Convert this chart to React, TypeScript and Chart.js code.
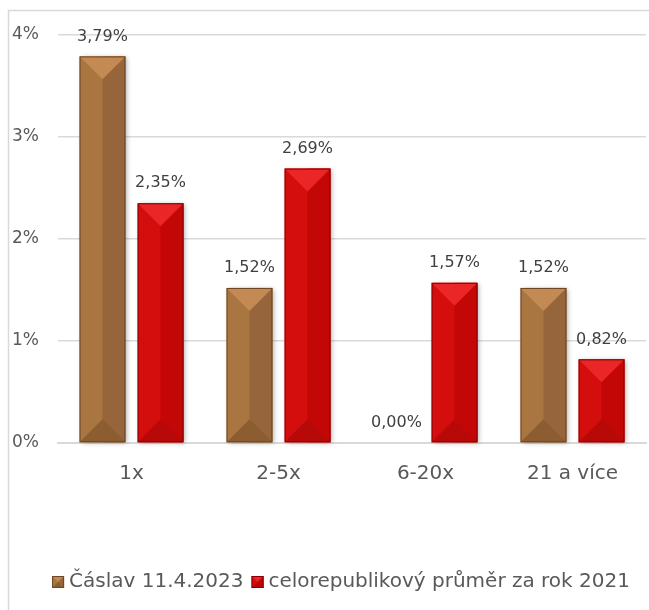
import React, { useEffect, useRef } from "react";
import { Chart, registerables } from "chart.js";

Chart.register(...registerables);

const categories = ["1x", "2-5x", "6-20x", "21 a více"];
const seriesNames = ["Čáslav 11.4.2023", "celorepublikový průměr za rok 2021"];
const caslav = [3.79, 1.52, 0.0, 1.52];
const national = [2.35, 2.69, 1.57, 0.82];
const yTicks = [0, 1, 2, 3, 4];

const FONT = "'DejaVu Sans', sans-serif";
const TEXT = "#595959";

type Pal = { left: string; right: string; top: string; bottom: string; edge: string };
const brown: Pal = { left: "#a97541", right: "#96653b", top: "#c48a53", bottom: "#8c5d31", edge: "#6e4623" };
const red: Pal = { left: "#d40d0d", right: "#c30606", top: "#ea2626", bottom: "#b80909", edge: "#8a0000" };
const palettes = [brown, red];

function drawBevel(ctx: CanvasRenderingContext2D, l: number, r: number, top: number, base: number, p: Pal, shadow: boolean) {
  const w = r - l;
  const h = base - top;
  if (h <= 0.5) return;
  const cx = (l + r) / 2;
  const d = Math.min(w / 2, h / 2);
  ctx.save();
  if (shadow) {
    ctx.shadowColor = "rgba(0,0,0,0.35)";
    ctx.shadowBlur = 5;
    ctx.shadowOffsetX = 2;
    ctx.shadowOffsetY = 1;
  }
  ctx.fillStyle = p.left;
  ctx.fillRect(l, top, w, h);
  ctx.restore();
  ctx.save();
  ctx.fillStyle = p.right;
  ctx.fillRect(cx, top, r - cx, h);
  ctx.fillStyle = p.top;
  ctx.beginPath();
  ctx.moveTo(l, top);
  ctx.lineTo(r, top);
  ctx.lineTo(cx, top + d);
  ctx.closePath();
  ctx.fill();
  ctx.fillStyle = p.bottom;
  ctx.beginPath();
  ctx.moveTo(l, base);
  ctx.lineTo(r, base);
  ctx.lineTo(cx, base - d);
  ctx.closePath();
  ctx.fill();
  ctx.strokeStyle = p.edge;
  ctx.lineWidth = 1;
  ctx.strokeRect(l + 0.5, top + 0.5, w - 1, h - 1);
  ctx.restore();
}

const fmt = (v: number) => v.toFixed(2).replace(".", ",") + "%";

const customPlugin = {
  id: "custom",
  beforeDraw(chart: any) {
    const ctx = chart.ctx as CanvasRenderingContext2D;
    ctx.save();
    ctx.fillStyle = "#ffffff";
    ctx.fillRect(0, 0, chart.width, chart.height);
    ctx.strokeStyle = "#d9d9d9";
    ctx.lineWidth = 1.5;
    ctx.beginPath();
    ctx.moveTo(8.5, chart.height);
    ctx.lineTo(8.5, 10.5);
    ctx.lineTo(chart.width, 10.5);
    ctx.stroke();
    ctx.restore();
  },
  afterDatasetsDraw(chart: any) {
    const ctx = chart.ctx as CanvasRenderingContext2D;
    chart.data.datasets.forEach((ds: any, di: number) => {
      const meta = chart.getDatasetMeta(di);
      meta.data.forEach((bar: any, i: number) => {
        const props = bar.getProps(["x", "y", "base", "width"], true);
        const l = props.x - props.width / 2;
        const r = props.x + props.width / 2;
        drawBevel(ctx, l, r, props.y, props.base, palettes[di], true);
        ctx.save();
        ctx.fillStyle = "#404040";
        ctx.font = `16px ${FONT}`;
        ctx.textAlign = "center";
        ctx.textBaseline = "middle";
        ctx.fillText(fmt(ds.data[i]), props.x, props.y - 20);
        ctx.restore();
      });
    });
  },
  afterDraw(chart: any) {
    const ctx = chart.ctx as CanvasRenderingContext2D;
    ctx.save();
    ctx.font = `20px ${FONT}`;
    ctx.textBaseline = "middle";
    ctx.fillStyle = TEXT;
    const box = 12;
    const gap = 5;
    const itemGap = 8;
    const w0 = ctx.measureText(seriesNames[0]).width;
    const w1 = ctx.measureText(seriesNames[1]).width;
    const total = box + gap + w0 + itemGap + box + gap + w1;
    let x = 341 - total / 2;
    const y = 582;
    seriesNames.forEach((name, i) => {
      drawBevel(ctx, x, x + box, y - box / 2, y + box / 2, palettes[i], false);
      x += box + gap;
      ctx.fillStyle = TEXT;
      ctx.fillText(name, x, y);
      x += (i === 0 ? w0 : w1) + itemGap;
    });
    ctx.restore();
  },
};

export default function App() {
  const ref = useRef<HTMLCanvasElement | null>(null);
  useEffect(() => {
    if (!ref.current) return;
    const chart = new Chart(ref.current, {
      type: "bar",
      data: {
        labels: categories,
        datasets: [
          { label: seriesNames[0], data: caslav, backgroundColor: "rgba(0,0,0,0)", categoryPercentage: 0.79, barPercentage: 0.79 },
          { label: seriesNames[1], data: national, backgroundColor: "rgba(0,0,0,0)", categoryPercentage: 0.79, barPercentage: 0.79 },
        ],
      },
      options: {
        responsive: false,
        animation: false,
        devicePixelRatio: 1,
        layout: { padding: { left: 12, top: 35, right: 3, bottom: 107 } },
        plugins: { legend: { display: false }, tooltip: { enabled: false }, title: { display: false } },
        scales: {
          x: {
            grid: { display: false, drawTicks: false },
            border: { display: true, color: "#d9d9d9", width: 2 },
            ticks: { color: TEXT, font: { family: FONT, size: 20 }, padding: 19 },
            afterFit: (s: any) => { s.height = 60; },
          },
          y: {
            min: 0,
            max: 4,
            afterBuildTicks: (s: any) => { s.ticks = yTicks.map((v) => ({ value: v })); },
            grid: { color: "#d9d9d9", lineWidth: 1.5, drawTicks: false },
            border: { display: false },
            ticks: { color: TEXT, font: { family: FONT, size: 17 }, crossAlign: "far", padding: 0, callback: (v: any) => v + "%" },
            afterFit: (s: any) => { s.width = 46; },
          },
        },
      },
      plugins: [customPlugin],
    });
    return () => chart.destroy();
  }, []);
  return (
    <div style={{ position: "absolute", left: 0, top: 0, width: 649, height: 610 }}>
      <canvas ref={ref} width={649} height={610} style={{ display: "block" }} />
    </div>
  );
}
